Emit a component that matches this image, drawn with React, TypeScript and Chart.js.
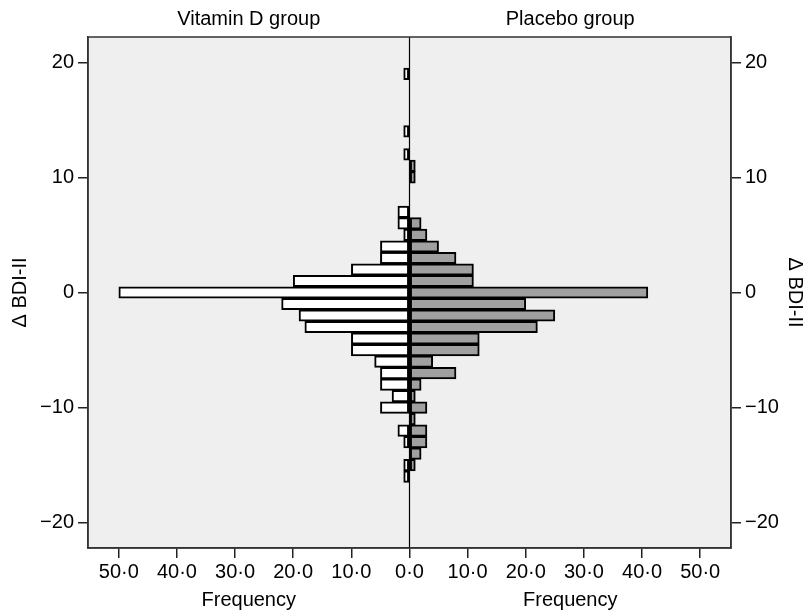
import React, { useEffect, useRef } from "react";
import { Chart, registerables } from "chart.js";

Chart.register(...registerables);

// Change in BDI-II score (bin centres)
const bdiChange = [19, 18, 17, 16, 15, 14, 13, 12, 11, 10, 9, 8, 7, 6, 5, 4, 3, 2, 1, 0, -1, -2, -3, -4, -5, -6, -7, -8, -9, -10, -11, -12, -13, -14, -15, -16];
// Frequencies, Vitamin D group (drawn to the left)
const vitaminD = [1, 0, 0, 0, 0, 1, 0, 1, 0, 0, 0, 0, 2, 2, 1, 5, 5, 10, 20, 50, 22, 19, 18, 10, 10, 6, 5, 5, 3, 5, 0, 2, 1, 0, 1, 1];
// Frequencies, Placebo group (drawn to the right)
const placebo = [0, 0, 0, 0, 0, 0, 0, 0, 1, 1, 0, 0, 0, 2, 3, 5, 8, 11, 11, 41, 20, 25, 22, 12, 12, 4, 8, 2, 1, 3, 1, 3, 3, 2, 1, 0];

const groupTitles = ["Vitamin D group", "Placebo group"];
const freqTitle = "Frequency";
const yTitle = "\u0394 BDI-II";

const FONT = "'Liberation Sans', Arial, Helvetica, sans-serif";

const freqLabel = (v: number) => Math.abs(v).toFixed(1).replace(".", "\u00b7");
const bdiLabel = (v: number) => (v < 0 ? "\u2212" + Math.abs(v) : String(v));

const panelPlugin = {
  id: "panelDecor",
  beforeDraw(chart: any) {
    const { ctx, chartArea } = chart;
    ctx.save();
    ctx.fillStyle = "#efefef";
    ctx.fillRect(chartArea.left, chartArea.top, chartArea.right - chartArea.left, chartArea.bottom - chartArea.top);
    ctx.restore();
  },
  afterDatasetsDraw(chart: any) {
    const { ctx, chartArea } = chart;
    const mid = chart.scales.x.getPixelForValue(0);
    ctx.save();
    ctx.strokeStyle = "#000";
    ctx.lineWidth = 1.2;
    ctx.beginPath();
    ctx.moveTo(mid, chartArea.top);
    ctx.lineTo(mid, chartArea.bottom);
    ctx.stroke();
    ctx.strokeStyle = "#333";
    ctx.lineWidth = 1.5;
    ctx.strokeRect(chartArea.left, chartArea.top, chartArea.right - chartArea.left, chartArea.bottom - chartArea.top);
    ctx.restore();
  },
  afterDraw(chart: any) {
    const { ctx, chartArea } = chart;
    const mid = chart.scales.x.getPixelForValue(0);
    const leftC = (chartArea.left + mid) / 2;
    const rightC = (mid + chartArea.right) / 2;
    ctx.save();
    ctx.fillStyle = "#000";
    ctx.font = `20px ${FONT}`;
    ctx.textAlign = "center";
    ctx.textBaseline = "alphabetic";
    ctx.fillText(groupTitles[0], leftC, 25);
    ctx.fillText(groupTitles[1], rightC, 25);
    ctx.fillText(freqTitle, leftC, 606);
    ctx.fillText(freqTitle, rightC, 606);
    ctx.restore();
  },
};

const yAxisBase = (position: string, width: number, titlePad: number) => ({
  type: "linear",
  position,
  min: -22.2,
  max: 22.2,
  offset: false,
  ticks: {
    stepSize: 10,
    includeBounds: false,
    color: "#000",
    font: { family: FONT, size: 20 },
    padding: 4,
    callback: (v: any) => bdiLabel(Number(v)),
  },
  grid: {
    offset: false,
    drawOnChartArea: false,
    drawTicks: true,
    tickLength: 10,
    tickColor: "#222",
    lineWidth: 1.5,
  },
  border: { display: true, color: "#333", width: 1.5 },
  title: {
    display: true,
    text: yTitle,
    color: "#000",
    font: { family: FONT, size: 20, lineHeight: 1 },
    padding: { top: titlePad, bottom: 0 },
  },
  afterFit: (s: any) => {
    s.width = width;
  },
});

export default function App() {
  const canvasRef = useRef<HTMLCanvasElement | null>(null);

  useEffect(() => {
    if (!canvasRef.current) return;
    const vitData = bdiChange.map((y, i) => ({ y, x: -vitaminD[i] })).filter((p) => p.x !== 0);
    const plaData = bdiChange.map((y, i) => ({ y, x: placebo[i] })).filter((p) => p.x !== 0);

    const chart = new Chart(canvasRef.current, {
      type: "bar",
      data: {
        datasets: [
          {
            label: groupTitles[0],
            data: vitData as any,
            backgroundColor: "#ffffff",
            borderColor: "#000000",
            borderWidth: 2,
            borderSkipped: false,
            grouped: false,
            barPercentage: 1,
            categoryPercentage: 1,
            yAxisID: "y",
          } as any,
          {
            label: groupTitles[1],
            data: plaData as any,
            backgroundColor: "#a0a0a0",
            borderColor: "#000000",
            borderWidth: 2,
            borderSkipped: false,
            grouped: false,
            barPercentage: 1,
            categoryPercentage: 1,
            yAxisID: "y",
          } as any,
        ],
      },
      options: {
        indexAxis: "y",
        animation: false,
        responsive: true,
        maintainAspectRatio: false,
        layout: { padding: { top: 37, left: 0, right: 0, bottom: 0 } },
        plugins: {
          legend: { display: false },
          tooltip: { enabled: false },
        },
        font: { family: FONT, size: 20 },
        scales: {
          x: {
            type: "linear",
            position: "bottom",
            min: -55.3,
            max: 55.3,
            ticks: {
              stepSize: 10,
              includeBounds: false,
              color: "#000",
              font: { family: FONT, size: 20 },
              padding: 2,
              maxRotation: 0,
              autoSkip: false,
              callback: (v: any) => freqLabel(Number(v)),
            },
            grid: {
              drawOnChartArea: false,
              drawTicks: true,
              tickLength: 10,
              tickColor: "#222",
              lineWidth: 1.5,
            },
            border: { display: true, color: "#333", width: 1.5 },
            afterFit: (s: any) => {
              s.height = 64;
            },
          } as any,
          y: yAxisBase("left", 88, 10) as any,
          y2: yAxisBase("right", 74, 0) as any,
        },
      } as any,
      plugins: [panelPlugin],
    });

    return () => {
      chart.destroy();
    };
  }, []);

  return (
    <div style={{ position: "absolute", left: 0, top: 0, width: 805, height: 612, background: "#fff" }}>
      <canvas ref={canvasRef} />
    </div>
  );
}
